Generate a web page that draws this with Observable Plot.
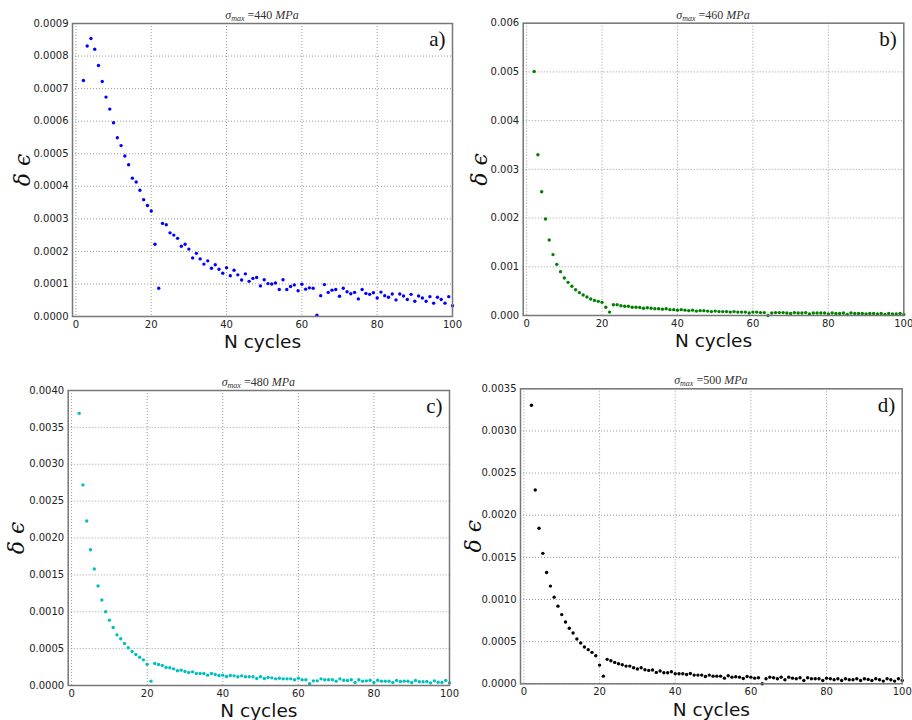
<!DOCTYPE html>
<html><head><meta charset="utf-8">
<script src="https://cdn.jsdelivr.net/npm/d3@7"></script>
<script src="https://cdn.jsdelivr.net/npm/@observablehq/plot@0.6"></script>
<style>
body{margin:0;background:#fff;}
#wrap{position:relative;width:912px;height:720px;overflow:hidden;}
.panel{position:absolute;}
.title{position:absolute;font-family:"Liberation Serif",serif;font-size:12px;line-height:14px;color:#333;white-space:nowrap;transform:translateX(-50%);}
.title sub{font-size:8px;vertical-align:-2px;}
</style></head><body><div id="wrap"></div><script>
const cycles = [2,3,4,5,6,7,8,9,10,11,12,13,14,15,16,17,18,19,20,21,22,23,24,25,26,27,28,29,30,31,32,33,34,35,36,37,38,39,40,41,42,43,44,45,46,47,48,49,50,51,52,53,54,55,56,57,58,59,60,61,62,63,64,65,66,67,68,69,70,71,72,73,74,75,76,77,78,79,80,81,82,83,84,85,86,87,88,89,90,91,92,93,94,95,96,97,98,99,100];

const strain440 = [
7.25e-4,8.31e-4,8.54e-4,8.21e-4,7.71e-4,7.22e-4,6.74e-4,6.37e-4,5.95e-4,5.49e-4,
5.25e-4,4.93e-4,4.66e-4,4.25e-4,4.13e-4,3.88e-4,3.59e-4,3.41e-4,3.24e-4,2.22e-4,
0.87e-4,2.86e-4,2.82e-4,2.57e-4,2.50e-4,2.40e-4,2.16e-4,2.22e-4,2.07e-4,1.80e-4,
1.94e-4,1.77e-4,1.61e-4,1.71e-4,1.48e-4,1.59e-4,1.45e-4,1.33e-4,1.50e-4,1.25e-4,
1.42e-4,1.28e-4,1.12e-4,1.31e-4,1.08e-4,1.17e-4,1.20e-4,0.94e-4,1.13e-4,1.01e-4,
1.00e-4,1.03e-4,0.83e-4,1.13e-4,0.83e-4,0.92e-4,0.97e-4,0.79e-4,0.99e-4,0.84e-4,
0.88e-4,0.87e-4,0.04e-4,0.64e-4,0.98e-4,0.74e-4,0.81e-4,0.83e-4,0.62e-4,0.87e-4,
0.76e-4,0.70e-4,0.74e-4,0.54e-4,0.83e-4,0.71e-4,0.68e-4,0.73e-4,0.57e-4,0.75e-4,
0.64e-4,0.59e-4,0.69e-4,0.51e-4,0.69e-4,0.63e-4,0.52e-4,0.68e-4,0.47e-4,0.63e-4,
0.57e-4,0.47e-4,0.61e-4,0.41e-4,0.59e-4,0.52e-4,0.41e-4,0.61e-4,0.33e-4];

const strain460 = [
5.01e-3,3.30e-3,2.54e-3,1.98e-3,1.55e-3,1.25e-3,1.05e-3,0.90e-3,0.77e-3,0.68e-3,
0.60e-3,0.53e-3,0.47e-3,0.42e-3,0.38e-3,0.34e-3,0.31e-3,0.29e-3,0.27e-3,0.17e-3,
0.07e-3,0.22e-3,0.22e-3,0.20e-3,0.19e-3,0.19e-3,0.17e-3,0.17e-3,0.165e-3,0.15e-3,
0.16e-3,0.15e-3,0.14e-3,0.14e-3,0.13e-3,0.14e-3,0.12e-3,0.12e-3,0.11e-3,0.12e-3,
0.11e-3,0.10e-3,0.11e-3,0.09e-3,0.10e-3,0.10e-3,0.09e-3,0.08e-3,0.09e-3,0.08e-3,
0.08e-3,0.08e-3,0.07e-3,0.08e-3,0.07e-3,0.07e-3,0.07e-3,0.05e-3,0.07e-3,0.07e-3,
0.06e-3,0.06e-3,0.00e-3,0.05e-3,0.06e-3,0.06e-3,0.06e-3,0.05e-3,0.04e-3,0.06e-3,
0.05e-3,0.05e-3,0.06e-3,0.03e-3,0.05e-3,0.05e-3,0.05e-3,0.05e-3,0.03e-3,0.05e-3,
0.04e-3,0.04e-3,0.05e-3,0.02e-3,0.05e-3,0.04e-3,0.04e-3,0.04e-3,0.03e-3,0.04e-3,
0.04e-3,0.03e-3,0.04e-3,0.02e-3,0.04e-3,0.03e-3,0.03e-3,0.04e-3,0.02e-3];

const strain480 = [
36.9e-4,27.2e-4,22.3e-4,18.4e-4,15.8e-4,13.5e-4,11.6e-4,10.0e-4,8.86e-4,7.86e-4,
6.87e-4,6.33e-4,5.69e-4,5.11e-4,4.61e-4,4.20e-4,3.84e-4,3.48e-4,2.89e-4,0.59e-4,
2.98e-4,2.85e-4,2.71e-4,2.44e-4,2.40e-4,2.26e-4,1.99e-4,2.08e-4,1.90e-4,1.76e-4,
1.85e-4,1.63e-4,1.63e-4,1.63e-4,1.40e-4,1.63e-4,1.49e-4,1.36e-4,1.40e-4,1.22e-4,
1.36e-4,1.31e-4,1.18e-4,1.31e-4,1.18e-4,1.18e-4,1.18e-4,0.95e-4,1.18e-4,0.95e-4,
1.08e-4,1.04e-4,0.90e-4,0.99e-4,0.90e-4,0.90e-4,0.90e-4,0.77e-4,0.99e-4,0.77e-4,
0.77e-4,0.23e-4,0.63e-4,0.63e-4,0.90e-4,0.77e-4,0.77e-4,0.77e-4,0.59e-4,0.90e-4,
0.72e-4,0.68e-4,0.77e-4,0.41e-4,0.77e-4,0.59e-4,0.63e-4,0.72e-4,0.41e-4,0.72e-4,
0.59e-4,0.59e-4,0.59e-4,0.41e-4,0.68e-4,0.54e-4,0.59e-4,0.59e-4,0.41e-4,0.68e-4,
0.50e-4,0.50e-4,0.54e-4,0.36e-4,0.63e-4,0.45e-4,0.41e-4,0.68e-4,0.36e-4];

const strain500 = [
33.05e-4,23.0e-4,18.45e-4,15.48e-4,13.21e-4,11.59e-4,10.28e-4,9.21e-4,8.21e-4,7.34e-4,
6.59e-4,6.03e-4,5.32e-4,4.84e-4,4.37e-4,4.05e-4,3.73e-4,3.33e-4,2.22e-4,0.91e-4,
2.90e-4,2.74e-4,2.54e-4,2.38e-4,2.26e-4,2.10e-4,2.10e-4,1.90e-4,1.75e-4,1.90e-4,
1.67e-4,1.59e-4,1.63e-4,1.35e-4,1.51e-4,1.31e-4,1.31e-4,1.43e-4,1.19e-4,1.19e-4,
1.19e-4,1.11e-4,1.23e-4,1.03e-4,1.03e-4,1.03e-4,0.87e-4,1.03e-4,0.91e-4,0.91e-4,
0.91e-4,0.67e-4,0.95e-4,0.79e-4,0.83e-4,0.79e-4,0.63e-4,0.87e-4,0.79e-4,0.67e-4,
0.71e-4,0.00e-4,0.60e-4,0.79e-4,0.71e-4,0.60e-4,0.79e-4,0.48e-4,0.79e-4,0.67e-4,
0.60e-4,0.71e-4,0.40e-4,0.71e-4,0.60e-4,0.60e-4,0.60e-4,0.40e-4,0.67e-4,0.60e-4,
0.48e-4,0.60e-4,0.40e-4,0.60e-4,0.48e-4,0.48e-4,0.60e-4,0.40e-4,0.60e-4,0.52e-4,
0.40e-4,0.60e-4,0.48e-4,0.32e-4,0.60e-4,0.48e-4,0.32e-4,0.60e-4,0.40e-4];

const xTicks = [0,20,40,60,80,100];
const yTicks440 = [0,0.0001,0.0002,0.0003,0.0004,0.0005,0.0006,0.0007,0.0008,0.0009];
const yTicks460 = [0,0.001,0.002,0.003,0.004,0.005,0.006];
const yTicks480 = [0,0.0005,0.001,0.0015,0.002,0.0025,0.003,0.0035,0.004];
const yTicks500 = [0,0.0005,0.001,0.0015,0.002,0.0025,0.003,0.0035];
const stresses = ["440","460","480","500"];
const letters = ["a)","b)","c)","d)"];
const xLabel = "N cycles";
const yLabel = "δ ϵ";

const panels = [
  {left:0,   top:0,   ml:72,   mr:4,    mt:23,   mb:44,   values:strain440, ticks:yTicks440, fmt:".4f", color:"#0000ff", stress:stresses[0], letter:letters[0], ylab:50},
  {left:456, top:0,   ml:66.7, mr:8.7,  mt:22.7, mb:45,   values:strain460, ticks:yTicks460, fmt:".3f", color:"#008000", stress:stresses[1], letter:letters[1], ylab:43},
  {left:0,   top:360, ml:67.7, mr:7,    mt:30,   mb:35,   values:strain480, ticks:yTicks480, fmt:".4f", color:"#00bfbf", stress:stresses[2], letter:letters[2], ylab:51},
  {left:456, top:360, ml:64,   mr:10.3, mt:28.3, mb:36.7, values:strain500, ticks:yTicks500, fmt:".4f", color:"#000000", stress:stresses[3], letter:letters[3], ylab:47}
];

const W = 456, H = 360;
const wrap = document.getElementById("wrap");

for (const p of panels) {
  const data = cycles.map((n, i) => ({n, v: p.values[i]}));
  const ymax = p.ticks[p.ticks.length - 1];
  const chart = Plot.plot({
    width: W, height: H,
    marginLeft: p.ml, marginRight: p.mr, marginTop: p.mt, marginBottom: p.mb,
    style: {fontFamily: "DejaVu Sans, sans-serif", fontSize: "10px", color: "#222", background: "transparent", overflow: "visible"},
    x: {domain: [-0.9, 100]},
    y: {domain: [0, ymax]},
    marks: [
      Plot.gridX(xTicks, {stroke: "#9a9a9a", strokeOpacity: 1, strokeDasharray: "1,2"}),
      Plot.gridY(p.ticks, {stroke: "#9a9a9a", strokeOpacity: 1, strokeDasharray: "1,2"}),
      Plot.axisX(xTicks, {tickSize: 0, tickPadding: 4, label: null, fontSize: 10}),
      Plot.axisY(p.ticks, {tickSize: 0, tickPadding: 4, label: null, tickFormat: d3.format(p.fmt), fontSize: 10}),
      Plot.dot(data, {x: "n", y: "v", r: 1.7, fill: p.color, stroke: null}),
      Plot.frame({stroke: "#777", strokeWidth: 1.5}),
      Plot.text([p.letter], {frameAnchor: "top-right", textAnchor: "end", lineAnchor: "middle", dx: -7, dy: 16, fontSize: 21, fontFamily: "Liberation Serif, serif", fill: "#111"}),
      Plot.text([xLabel], {frameAnchor: "bottom", textAnchor: "middle", lineAnchor: "middle", dy: 26, fontSize: 18.5, fill: "#111"}),
      Plot.text([yLabel], {frameAnchor: "left", textAnchor: "middle", lineAnchor: "middle", rotate: -90, dx: -p.ylab, fontSize: 22, fontFamily: "DejaVu Serif, serif", fontStyle: "italic", fill: "#111"})
    ]
  });
  const div = document.createElement("div");
  div.className = "panel";
  div.style.left = p.left + "px";
  div.style.top = p.top + "px";
  div.appendChild(chart);
  wrap.appendChild(div);

  const t = document.createElement("div");
  t.className = "title";
  t.style.left = (p.left + p.ml + (W - p.ml - p.mr) / 2) + "px";
  t.style.top = (p.top + p.mt - 15) + "px";
  t.innerHTML = `<i>σ<sub>max</sub></i> =${p.stress} <i>MPa</i>`;
  wrap.appendChild(t);
}
</script></body></html>
